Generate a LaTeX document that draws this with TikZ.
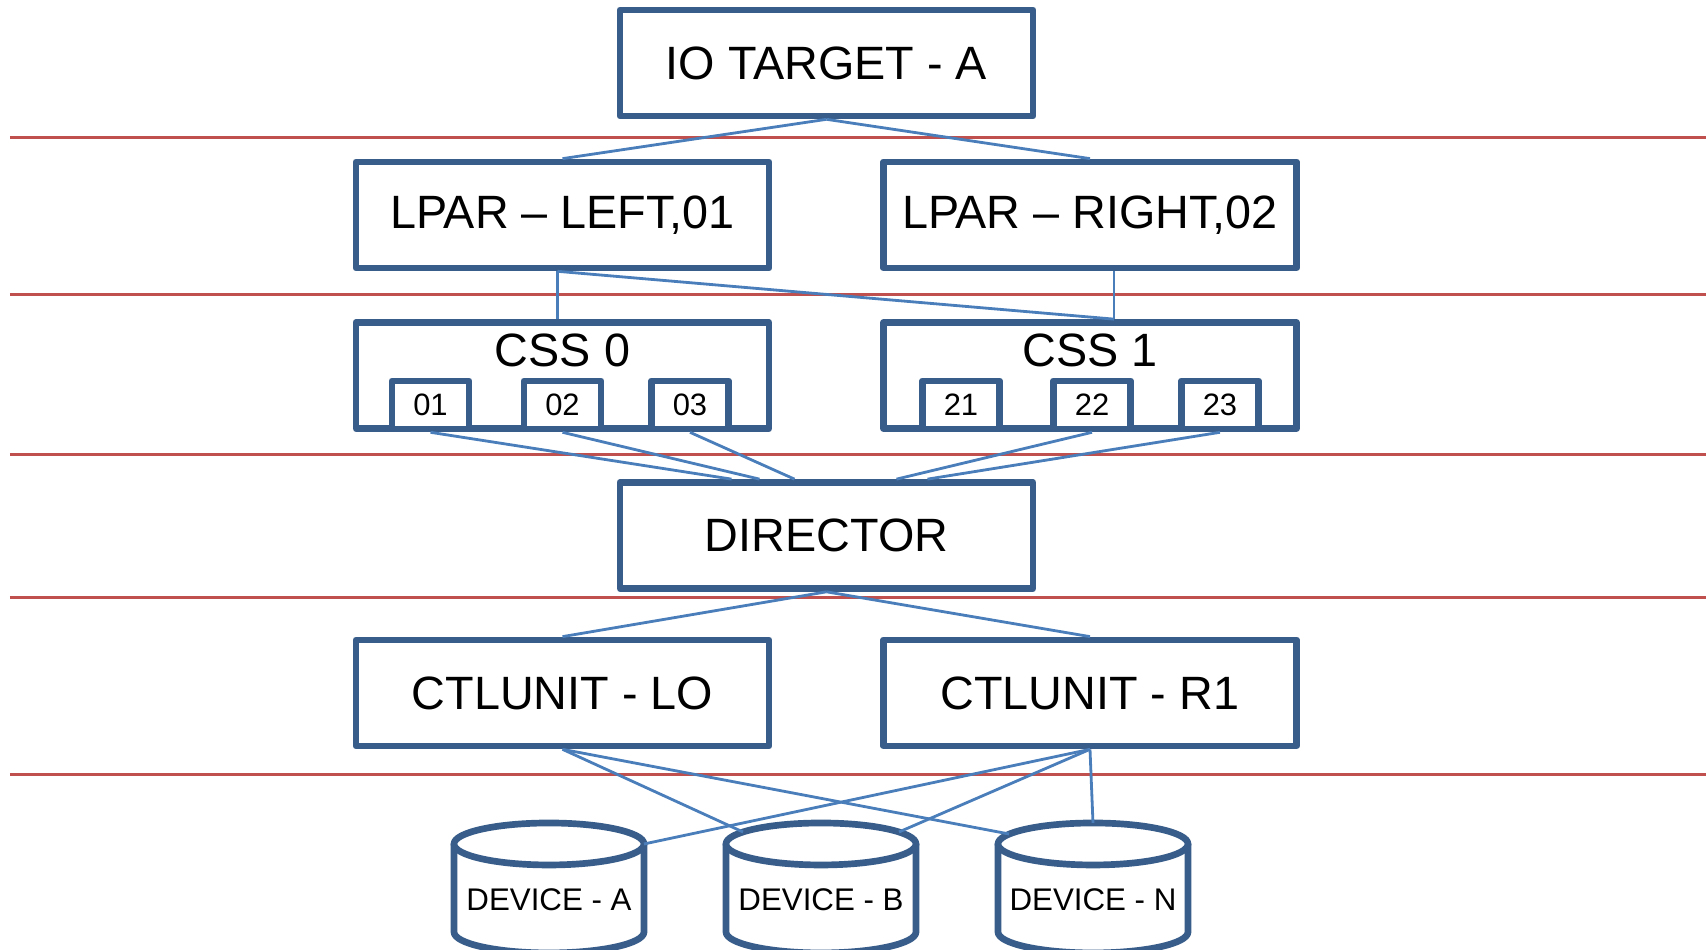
\documentclass[tikz,border=0pt]{standalone}
\usepackage{fontspec}
\setmainfont{Liberation Sans}
\usetikzlibrary{positioning,calc}
\definecolor{boxblue}{HTML}{385D8A}
\definecolor{linkblue}{HTML}{4A7EBB}
\definecolor{layerred}{HTML}{C0504D}

\begin{document}
\begin{tikzpicture}[x=0.1mm, y=0.1mm,
  box/.style={rectangle, draw=boxblue, line width=1.9pt, fill=white, line join=round,
    minimum width=41.3mm, minimum height=10.6mm, inner sep=0pt, font=\fontsize{13.3}{16}\selectfont},
  smallbox/.style={rectangle, draw=boxblue, line width=1.9pt, fill=white, line join=round,
    minimum width=7.7mm, minimum height=4.8mm, inner sep=0pt, font=\fontsize{8.8}{10}\selectfont},
  disk/.style={draw=boxblue, line width=1.9pt, fill=white},
  devtext/.style={inner sep=0pt, font=\fontsize{8.9}{10}\selectfont},
  link/.style={draw=linkblue, line width=0.8pt},
  layer/.style={draw=layerred, line width=0.85pt}]
  \useasboundingbox (0,0) rectangle (1706,950);
  \clip (0,0) rectangle (1706,950);

  % Layer lines
  \foreach \ly in {812,655,495,352,175}
    \draw[layer] (10,\ly) -- (1706,\ly);

  % Nodes
  \node (IO) [box] at (826.5,887) {IO TARGET - A};
  \node (LPAR-L) [box] at (562.5,735) {LPAR – LEFT,01};
  \node (LPAR-R) [box] at (1090,735) {LPAR – RIGHT,02};
  \node (CSS0) [box] at (562.5,574.5) {};
  \node (CSS1) [box] at (1090,574.5) {};
  \node (CSS0-T) [below=1.4mm of CSS0.north, inner sep=0pt, font=\fontsize{13.3}{16}\selectfont] {CSS 0};
  \node (CSS1-T) [below=1.4mm of CSS1.north, inner sep=0pt, font=\fontsize{13.3}{16}\selectfont] {CSS 1};
  \node (S01) [smallbox] at (430.5,545) {01};
  \node (S02) [smallbox] at (562.5,545) {02};
  \node (S03) [smallbox] at (690,545) {03};
  \node (S21) [smallbox] at (961,545) {21};
  \node (S22) [smallbox] at (1092,545) {22};
  \node (S23) [smallbox] at (1220,545) {23};
  \node (DIR) [box] at (826.5,414.5) {DIRECTOR};
  \node (CU-L) [box] at (562.5,257) {CTLUNIT - LO};
  \node (CU-R) [box] at (1090,257) {CTLUNIT - R1};

  % Devices
  \foreach \cx/\name/\txt in {549/DEV-A/{DEVICE - A}, 821/DEV-B/{DEVICE - B}, 1093/DEV-N/{DEVICE - N}} {
    \draw[disk] (\cx-95,106) -- (\cx-95,18) arc[start angle=180, end angle=360, x radius=95, y radius=21] -- (\cx+95,106);
    \draw[disk] (\cx,106) ellipse [x radius=95, y radius=21];
    \node (\name) [devtext] at (\cx,50) {\txt};
  }
  \coordinate (A-r) at (644,106);
  \coordinate (B-l) at (743,118);
  \coordinate (B-r) at (899,118);
  \coordinate (N-l) at (1009,116);
  \coordinate (N-t) at (1093,127);

  % Links
  \draw[link] (IO.south) -- (LPAR-L.north);
  \draw[link] (IO.south) -- (LPAR-R.north);
  \draw[link] ($(LPAR-L.south)+(-5,0)$) -- ($(CSS0.north)+(-5,0)$);
  \draw[link] ($(LPAR-L.south)+(-5,0)$) -- ($(CSS1.north)+(24,0)$);
  \draw[link] ($(LPAR-R.south)+(24,0)$) -- ($(CSS1.north)+(24,0)$);
  \draw[link] (S01.south) -- ($(DIR.north)+(-95,0)$);
  \draw[link] (S02.south) -- ($(DIR.north)+(-67,0)$);
  \draw[link] (S03.south) -- ($(DIR.north)+(-32,0)$);
  \draw[link] (S22.south) -- ($(DIR.north)+(70,0)$);
  \draw[link] (S23.south) -- ($(DIR.north)+(101,0)$);
  \draw[link] (DIR.south) -- (CU-L.north);
  \draw[link] (DIR.south) -- (CU-R.north);
  \draw[link] (CU-L.south) -- (B-l);
  \draw[link] (CU-L.south) -- (N-l);
  \draw[link] (CU-R.south) -- (A-r);
  \draw[link] (CU-R.south) -- (B-r);
  \draw[link] (CU-R.south) -- (N-t);
\end{tikzpicture}
\end{document}
